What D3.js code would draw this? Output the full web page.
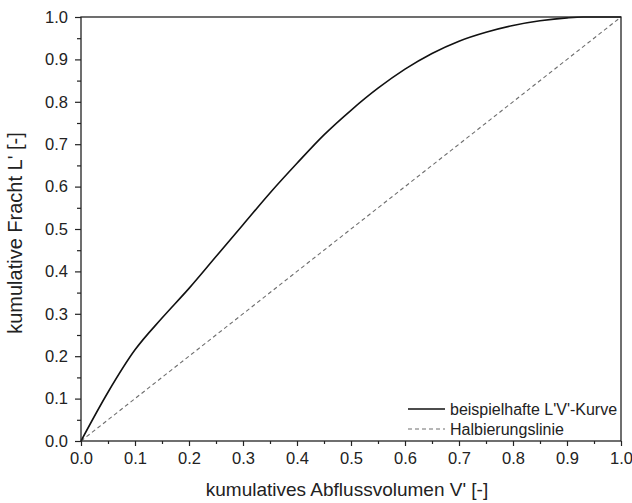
<!DOCTYPE html>
<html>
<head>
<meta charset="utf-8">
<script src="https://cdn.jsdelivr.net/npm/d3@7"></script>
<style>
    body { margin: 0; background: #fff; }
    svg { display: block; font-family: "Liberation Sans", Arial, sans-serif; }
</style>
</head>
<body>
<svg id="chart" width="632" height="503"></svg>
<script>
// kumulatives Abflussvolumen V' (x) und kumulative Fracht L' (y)
const volumen = [0, 0.05, 0.1, 0.15, 0.2, 0.25, 0.3, 0.35, 0.4, 0.45, 0.5,
    0.55, 0.6, 0.65, 0.7, 0.75, 0.8, 0.85, 0.9, 0.93, 1.0];
const fracht = [0, 0.115, 0.215, 0.29, 0.36, 0.435, 0.51, 0.585, 0.655, 0.722, 0.78,
    0.832, 0.877, 0.914, 0.943, 0.964, 0.98, 0.991, 0.998, 1.0, 1.0];
const halbierung = [0, 1];
const tickValues = [0, 0.1, 0.2, 0.3, 0.4, 0.5, 0.6, 0.7, 0.8, 0.9, 1.0];
const minorTicks = [0.05, 0.15, 0.25, 0.35, 0.45, 0.55, 0.65, 0.75, 0.85, 0.95];
const legendLabels = ["beispielhafte L'V'-Kurve", "Halbierungslinie"];

let svg = d3.select("#chart");
let margin = { left: 81, top: 17, right: 11, bottom: 62 };
let width = 632 - margin.left - margin.right;
let height = 503 - margin.top - margin.bottom;

let x = d3.scaleLinear().domain([0, 1]).range([0, width]);
let y = d3.scaleLinear().domain([0, 1]).range([height, 0]);

let g = svg.append("g").attr("transform", `translate(${margin.left},${margin.top})`);

// diagonal
g.append("path")
    .datum(halbierung)
    .attr("d", d3.line().x(d => x(d)).y(d => y(d)))
    .attr("fill", "none")
    .attr("stroke", "#6e6e6e")
    .attr("stroke-width", 1.1)
    .attr("stroke-dasharray", "4,3");

// L'V'-curve
let pts = volumen.map((v, i) => [v, fracht[i]]);
g.append("path")
    .datum(pts)
    .attr("d", d3.line().x(d => x(d[0])).y(d => y(d[1])).curve(d3.curveMonotoneX))
    .attr("fill", "none")
    .attr("stroke", "#111")
    .attr("stroke-width", 1.6);

// frame
g.append("rect")
    .attr("width", width).attr("height", height)
    .attr("fill", "none").attr("stroke", "#222").attr("stroke-width", 1.3);

// axes
g.append("g").attr("transform", `translate(0,${height})`)
    .call(d3.axisBottom(x).tickValues(tickValues).tickFormat(d3.format(".1f")).tickSize(5).tickPadding(6));
g.append("g")
    .call(d3.axisLeft(y).tickValues(tickValues).tickFormat(d3.format(".1f")).tickSize(6).tickPadding(7));

g.append("g").attr("transform", `translate(0,${height})`)
    .call(d3.axisBottom(x).tickValues(minorTicks).tickFormat("").tickSize(3));
g.append("g")
    .call(d3.axisLeft(y).tickValues(minorTicks).tickFormat("").tickSize(4));

g.selectAll(".domain").remove();
g.selectAll(".tick line").attr("stroke", "#222").attr("stroke-width", 1.2);
g.selectAll(".tick text")
    .attr("fill", "#222")
    .style("font-size", "16.5px")
    .style("font-family", "'Liberation Sans', Arial, sans-serif");

// axis titles
svg.append("text")
    .attr("x", 347)
    .attr("y", 496)
    .attr("text-anchor", "middle")
    .attr("fill", "#222")
    .style("font-size", "19px")
    .text("kumulatives Abflussvolumen V' [-]");

svg.append("text")
    .attr("transform", `translate(22,233) rotate(-90)`)
    .attr("text-anchor", "middle")
    .attr("fill", "#222")
    .style("font-size", "20px")
    .text("kumulative Fracht L' [-]");

// legend
let legend = g.append("g").attr("transform", `translate(${327},${392})`);
legendLabels.forEach((label, i) => {
    let row = legend.append("g").attr("transform", `translate(0,${i * 20})`);
    row.append("line")
        .attr("x1", 0).attr("x2", 37)
        .attr("stroke", i === 0 ? "#111" : "#6e6e6e")
        .attr("stroke-width", i === 0 ? 1.6 : 1.1)
        .attr("stroke-dasharray", i === 0 ? null : "4,3");
    row.append("text")
        .attr("x", 42).attr("y", 5.5)
        .attr("fill", "#222")
        .style("font-size", "16px")
        .text(label);
});
</script>
</body>
</html>
